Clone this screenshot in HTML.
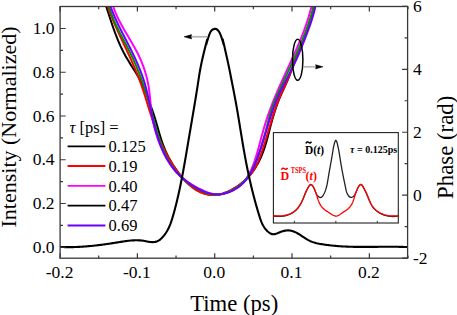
<!DOCTYPE html>
<html><head><meta charset="utf-8"><style>
html,body{margin:0;padding:0;background:#fff;width:457px;height:315px;overflow:hidden}
svg{display:block}
text{font-family:"Liberation Serif",serif;fill:#000}
.tk{font-size:17.5px}
.lg{font-size:16.5px}
.ti{font-size:22px}
.ib{font-size:12px;font-weight:bold}
.is{font-size:10px;font-weight:bold}
</style></head><body>
<svg width="457" height="315" viewBox="0 0 457 315">
<rect width="457" height="315" fill="#fff"/>
<defs><clipPath id="cp"><rect x="60.10" y="6.50" width="347.50" height="251.70"/></clipPath></defs>
<g clip-path="url(#cp)">
<path d="M106.25,6.59 L106.62,7.72 L106.99,8.86 L107.36,10.00 L107.73,11.14 L108.10,12.28 L108.47,13.41 L108.84,14.56 L109.21,15.70 L109.59,16.84 L109.96,17.98 L110.33,19.12 L110.71,20.26 L111.09,21.40 L111.47,22.54 L111.85,23.67 L112.24,24.81 L112.63,25.95 L113.02,27.08 L113.41,28.22 L113.81,29.35 L114.22,30.48 L114.63,31.61 L115.04,32.73 L115.46,33.86 L115.88,34.98 L116.31,36.10 L116.75,37.22 L117.19,38.33 L117.64,39.44 L118.09,40.55 L118.56,41.65 L119.03,42.75 L119.50,43.85 L119.99,44.95 L120.48,46.04 L120.99,47.12 L121.50,48.20 L122.02,49.28 L122.55,50.36 L123.08,51.42 L123.63,52.49 L124.19,53.55 L124.76,54.60 L125.34,55.65 L125.93,56.69 L126.53,57.73 L127.14,58.76 L127.76,59.80 L128.38,60.82 L129.01,61.85 L129.64,62.87 L130.28,63.89 L130.92,64.91 L131.56,65.93 L132.20,66.94 L132.85,67.96 L133.49,68.98 L134.13,70.00 L134.77,71.01 L135.40,72.03 L136.04,73.06 L136.66,74.08 L137.28,75.11 L137.89,76.14 L138.49,77.18 L139.09,78.22 L139.67,79.26 L140.25,80.31 L140.81,81.36 L141.36,82.42 L141.89,83.49 L142.41,84.57 L142.92,85.65 L143.41,86.74 L143.89,87.83 L144.35,88.93 L144.80,90.04 L145.24,91.15 L145.68,92.27 L146.11,93.38 L146.53,94.51 L146.94,95.63 L147.36,96.75 L147.77,97.88 L148.18,99.01 L148.59,100.13 L149.01,101.26 L149.43,102.38 L149.84,103.50 L150.26,104.63 L150.67,105.75 L151.09,106.88 L151.50,108.00 L151.90,109.13 L152.31,110.26 L152.71,111.39 L153.10,112.52 L153.48,113.66 L153.86,114.80 L154.23,115.94 L154.60,117.09 L154.95,118.23 L155.31,119.39 L155.65,120.54 L155.99,121.69 L156.33,122.85 L156.66,124.01 L157.00,125.16 L157.33,126.32 L157.66,127.48 L157.99,128.64 L158.32,129.80 L158.65,130.96 L158.98,132.11 L159.32,133.27 L159.66,134.42 L160.01,135.57 L160.36,136.72 L160.71,137.86 L161.08,139.01 L161.45,140.14 L161.83,141.28 L162.21,142.41 L162.61,143.54 L163.02,144.66 L163.44,145.77 L163.87,146.88 L164.31,147.99 L164.76,149.09 L165.22,150.19 L165.70,151.28 L166.19,152.36 L166.69,153.44 L167.20,154.51 L167.72,155.58 L168.25,156.64 L168.80,157.70 L169.36,158.74 L169.93,159.79 L170.51,160.83 L171.11,161.86 L171.71,162.88 L172.33,163.90 L172.96,164.92 L173.60,165.92 L174.26,166.92 L174.93,167.92 L175.61,168.91 L176.30,169.89 L177.01,170.86 L177.73,171.83 L178.46,172.79 L179.20,173.75 L179.96,174.70 L180.73,175.64 L181.51,176.57 L182.31,177.50 L183.11,178.41 L183.94,179.31 L184.77,180.20 L185.62,181.08 L186.49,181.94 L187.37,182.79 L188.26,183.62 L189.16,184.43 L190.09,185.22 L191.02,185.98 L191.97,186.73 L192.94,187.45 L193.92,188.15 L194.92,188.82 L195.93,189.46 L196.96,190.08 L198.00,190.66 L199.06,191.21 L200.14,191.73 L201.23,192.22 L202.34,192.67 L203.46,193.09 L204.59,193.47 L205.74,193.80 L206.89,194.10 L208.05,194.35 L209.22,194.56 L210.39,194.73 L211.56,194.84 L212.74,194.91 L213.92,194.93 L215.10,194.90 L216.27,194.81 L217.44,194.68 L218.61,194.50 L219.78,194.27 L220.94,194.00 L222.10,193.69 L223.25,193.34 L224.40,192.96 L225.53,192.54 L226.67,192.09 L227.79,191.61 L228.91,191.10 L230.01,190.57 L231.11,190.02 L232.20,189.44 L233.28,188.85 L234.34,188.23 L235.39,187.59 L236.43,186.94 L237.46,186.26 L238.47,185.56 L239.46,184.85 L240.44,184.12 L241.40,183.37 L242.34,182.60 L243.26,181.82 L244.17,181.02 L245.05,180.21 L245.92,179.38 L246.77,178.53 L247.60,177.67 L248.41,176.80 L249.21,175.91 L249.98,175.01 L250.74,174.09 L251.48,173.17 L252.21,172.22 L252.92,171.27 L253.61,170.31 L254.28,169.33 L254.94,168.34 L255.58,167.34 L256.21,166.33 L256.81,165.31 L257.41,164.28 L257.98,163.24 L258.55,162.19 L259.09,161.13 L259.62,160.07 L260.14,158.99 L260.64,157.91 L261.12,156.82 L261.59,155.72 L262.05,154.61 L262.49,153.50 L262.92,152.39 L263.34,151.26 L263.74,150.13 L264.13,149.00 L264.52,147.86 L264.89,146.72 L265.25,145.57 L265.60,144.42 L265.95,143.27 L266.29,142.11 L266.62,140.95 L266.94,139.78 L267.26,138.62 L267.58,137.45 L267.89,136.28 L268.20,135.11 L268.50,133.94 L268.81,132.77 L269.11,131.60 L269.41,130.43 L269.71,129.26 L270.01,128.09 L270.31,126.93 L270.62,125.76 L270.93,124.60 L271.24,123.43 L271.55,122.27 L271.87,121.12 L272.19,119.96 L272.52,118.81 L272.85,117.66 L273.19,116.51 L273.53,115.36 L273.87,114.22 L274.23,113.08 L274.58,111.94 L274.95,110.80 L275.32,109.67 L275.69,108.54 L276.07,107.41 L276.46,106.29 L276.86,105.16 L277.27,104.04 L277.68,102.92 L278.10,101.81 L278.53,100.69 L278.96,99.58 L279.41,98.48 L279.86,97.37 L280.33,96.27 L280.80,95.17 L281.28,94.08 L281.77,92.98 L282.27,91.89 L282.77,90.80 L283.28,89.71 L283.79,88.62 L284.30,87.53 L284.81,86.44 L285.31,85.35 L285.81,84.25 L286.31,83.16 L286.80,82.06 L287.28,80.96 L287.74,79.85 L288.20,78.74 L288.65,77.63 L289.08,76.51 L289.51,75.39 L289.94,74.27 L290.35,73.15 L290.76,72.02 L291.17,70.89 L291.58,69.77 L291.98,68.64 L292.39,67.51 L292.79,66.38 L293.20,65.26 L293.61,64.13 L294.03,63.01 L294.45,61.89 L294.87,60.77 L295.30,59.65 L295.73,58.53 L296.16,57.41 L296.60,56.29 L297.03,55.18 L297.47,54.06 L297.91,52.95 L298.35,51.83 L298.80,50.72 L299.24,49.61 L299.68,48.49 L300.13,47.38 L300.57,46.27 L301.02,45.16 L301.46,44.04 L301.91,42.93 L302.35,41.82 L302.79,40.70 L303.23,39.59 L303.67,38.47 L304.11,37.36 L304.55,36.24 L304.98,35.12 L305.41,34.01 L305.84,32.89 L306.26,31.76 L306.69,30.64 L307.10,29.52 L307.52,28.39 L307.92,27.27 L308.33,26.14 L308.73,25.01 L309.12,23.88 L309.51,22.74 L309.89,21.61 L310.26,20.47 L310.63,19.33 L310.98,18.18 L311.34,17.04 L311.68,15.89 L312.01,14.74 L312.34,13.58 L312.66,12.43 L312.97,11.27 L313.26,10.10 L313.55,8.94 L313.83,7.77 L314.09,6.59" fill="none" stroke="#000000" stroke-width="2" stroke-linejoin="round"/>
<path d="M107.87,6.57 L108.26,7.70 L108.66,8.84 L109.06,9.97 L109.47,11.10 L109.89,12.22 L110.31,13.34 L110.74,14.46 L111.17,15.58 L111.61,16.69 L112.05,17.80 L112.50,18.91 L112.96,20.02 L113.42,21.12 L113.88,22.23 L114.35,23.33 L114.82,24.43 L115.30,25.53 L115.78,26.62 L116.26,27.71 L116.74,28.81 L117.23,29.90 L117.73,30.99 L118.22,32.08 L118.72,33.17 L119.22,34.25 L119.72,35.34 L120.22,36.42 L120.73,37.51 L121.23,38.59 L121.74,39.68 L122.25,40.76 L122.76,41.84 L123.27,42.93 L123.78,44.01 L124.29,45.09 L124.80,46.17 L125.31,47.26 L125.82,48.34 L126.33,49.43 L126.84,50.51 L127.35,51.59 L127.85,52.68 L128.36,53.77 L128.86,54.85 L129.36,55.94 L129.86,57.03 L130.35,58.12 L130.85,59.22 L131.34,60.31 L131.83,61.40 L132.32,62.50 L132.80,63.59 L133.28,64.69 L133.76,65.79 L134.23,66.89 L134.70,67.99 L135.17,69.10 L135.63,70.20 L136.09,71.31 L136.55,72.42 L137.00,73.52 L137.45,74.64 L137.89,75.75 L138.33,76.86 L138.76,77.98 L139.19,79.09 L139.62,80.21 L140.04,81.33 L140.45,82.46 L140.86,83.58 L141.26,84.71 L141.66,85.83 L142.05,86.96 L142.44,88.09 L142.82,89.23 L143.20,90.36 L143.57,91.50 L143.94,92.63 L144.31,93.77 L144.67,94.91 L145.03,96.05 L145.39,97.19 L145.75,98.33 L146.10,99.48 L146.46,100.62 L146.81,101.76 L147.16,102.91 L147.51,104.05 L147.86,105.19 L148.21,106.34 L148.56,107.48 L148.91,108.63 L149.26,109.77 L149.62,110.91 L149.97,112.06 L150.33,113.20 L150.69,114.34 L151.06,115.48 L151.42,116.62 L151.79,117.76 L152.16,118.90 L152.54,120.04 L152.92,121.17 L153.30,122.31 L153.69,123.44 L154.08,124.57 L154.47,125.70 L154.87,126.83 L155.28,127.96 L155.68,129.09 L156.10,130.21 L156.51,131.33 L156.94,132.45 L157.36,133.56 L157.80,134.68 L158.24,135.79 L158.68,136.90 L159.13,138.01 L159.59,139.11 L160.05,140.21 L160.52,141.31 L160.99,142.41 L161.47,143.50 L161.96,144.59 L162.45,145.67 L162.95,146.75 L163.46,147.83 L163.98,148.91 L164.50,149.98 L165.03,151.05 L165.57,152.11 L166.11,153.17 L166.67,154.23 L167.23,155.28 L167.80,156.33 L168.38,157.37 L168.96,158.41 L169.56,159.45 L170.16,160.48 L170.78,161.50 L171.40,162.52 L172.03,163.54 L172.67,164.55 L173.32,165.55 L173.98,166.56 L174.65,167.55 L175.33,168.54 L176.02,169.52 L176.72,170.50 L177.43,171.48 L178.15,172.44 L178.89,173.41 L179.63,174.36 L180.38,175.31 L181.15,176.26 L181.93,177.19 L182.71,178.12 L183.52,179.04 L184.33,179.94 L185.16,180.83 L185.99,181.71 L186.85,182.57 L187.72,183.42 L188.60,184.24 L189.49,185.05 L190.40,185.83 L191.33,186.59 L192.27,187.33 L193.23,188.05 L194.20,188.73 L195.19,189.39 L196.20,190.02 L197.23,190.62 L198.27,191.19 L199.33,191.72 L200.41,192.22 L201.51,192.68 L202.62,193.11 L203.75,193.49 L204.89,193.84 L206.04,194.15 L207.20,194.42 L208.37,194.65 L209.55,194.83 L210.73,194.97 L211.91,195.07 L213.10,195.11 L214.28,195.12 L215.46,195.07 L216.64,194.98 L217.81,194.84 L218.98,194.66 L220.14,194.43 L221.30,194.17 L222.45,193.86 L223.60,193.51 L224.74,193.13 L225.87,192.71 L226.99,192.26 L228.11,191.78 L229.21,191.26 L230.31,190.72 L231.39,190.15 L232.47,189.55 L233.53,188.93 L234.58,188.28 L235.63,187.61 L236.65,186.92 L237.67,186.22 L238.67,185.49 L239.66,184.75 L240.63,184.00 L241.59,183.23 L242.53,182.45 L243.45,181.66 L244.36,180.86 L245.25,180.05 L246.13,179.23 L246.98,178.39 L247.81,177.54 L248.63,176.68 L249.42,175.80 L250.19,174.91 L250.94,174.00 L251.67,173.08 L252.37,172.14 L253.04,171.18 L253.70,170.20 L254.32,169.21 L254.93,168.20 L255.50,167.17 L256.06,166.12 L256.59,165.07 L257.11,164.00 L257.60,162.92 L258.09,161.82 L258.55,160.72 L259.00,159.61 L259.44,158.49 L259.87,157.37 L260.29,156.25 L260.71,155.12 L261.11,153.98 L261.51,152.85 L261.91,151.72 L262.29,150.58 L262.68,149.44 L263.06,148.30 L263.43,147.16 L263.80,146.01 L264.17,144.87 L264.53,143.72 L264.89,142.58 L265.24,141.43 L265.60,140.28 L265.95,139.14 L266.30,137.99 L266.64,136.84 L266.99,135.69 L267.33,134.54 L267.67,133.39 L268.01,132.23 L268.35,131.08 L268.69,129.93 L269.03,128.78 L269.37,127.63 L269.72,126.48 L270.06,125.34 L270.40,124.19 L270.75,123.04 L271.09,121.89 L271.44,120.75 L271.79,119.60 L272.15,118.46 L272.50,117.32 L272.86,116.17 L273.22,115.03 L273.59,113.90 L273.96,112.76 L274.34,111.62 L274.72,110.49 L275.10,109.36 L275.49,108.23 L275.89,107.10 L276.29,105.98 L276.70,104.86 L277.11,103.74 L277.53,102.62 L277.96,101.50 L278.40,100.39 L278.84,99.28 L279.29,98.18 L279.75,97.07 L280.21,95.97 L280.69,94.87 L281.17,93.78 L281.66,92.69 L282.16,91.60 L282.66,90.51 L283.17,89.43 L283.68,88.34 L284.19,87.26 L284.69,86.17 L285.20,85.09 L285.71,84.00 L286.20,82.91 L286.70,81.82 L287.19,80.72 L287.66,79.63 L288.13,78.52 L288.60,77.42 L289.05,76.31 L289.50,75.20 L289.94,74.09 L290.38,72.98 L290.81,71.86 L291.24,70.75 L291.67,69.63 L292.10,68.51 L292.52,67.39 L292.95,66.27 L293.38,65.16 L293.81,64.04 L294.24,62.92 L294.67,61.81 L295.11,60.69 L295.54,59.58 L295.98,58.46 L296.42,57.35 L296.85,56.23 L297.29,55.12 L297.73,54.01 L298.18,52.89 L298.62,51.78 L299.06,50.67 L299.50,49.56 L299.94,48.45 L300.38,47.33 L300.82,46.22 L301.27,45.11 L301.71,43.99 L302.14,42.88 L302.58,41.77 L303.02,40.65 L303.46,39.54 L303.89,38.43 L304.32,37.31 L304.76,36.19 L305.19,35.08 L305.61,33.96 L306.04,32.84 L306.46,31.72 L306.88,30.60 L307.30,29.48 L307.71,28.36 L308.12,27.23 L308.53,26.11 L308.92,24.98 L309.32,23.85 L309.71,22.72 L310.09,21.58 L310.46,20.45 L310.83,19.31 L311.19,18.17 L311.54,17.02 L311.89,15.88 L312.22,14.73 L312.55,13.58 L312.86,12.42 L313.17,11.26 L313.47,10.10 L313.75,8.93 L314.03,7.77 L314.29,6.59" fill="none" stroke="#ff0000" stroke-width="2" stroke-linejoin="round"/>
<path d="M113.26,6.60 L113.65,7.75 L114.05,8.89 L114.47,10.02 L114.91,11.14 L115.36,12.26 L115.82,13.37 L116.29,14.48 L116.78,15.57 L117.28,16.66 L117.79,17.75 L118.31,18.83 L118.84,19.90 L119.38,20.97 L119.93,22.03 L120.49,23.09 L121.05,24.15 L121.62,25.20 L122.20,26.25 L122.79,27.29 L123.38,28.33 L123.97,29.37 L124.57,30.41 L125.17,31.45 L125.78,32.48 L126.39,33.52 L127.00,34.55 L127.61,35.58 L128.22,36.61 L128.83,37.64 L129.45,38.67 L130.06,39.71 L130.67,40.74 L131.27,41.77 L131.88,42.81 L132.48,43.85 L133.07,44.89 L133.67,45.93 L134.25,46.98 L134.84,48.02 L135.41,49.08 L135.98,50.13 L136.54,51.19 L137.09,52.26 L137.64,53.33 L138.17,54.40 L138.70,55.48 L139.21,56.57 L139.72,57.66 L140.21,58.75 L140.70,59.85 L141.17,60.96 L141.63,62.07 L142.08,63.19 L142.52,64.31 L142.95,65.43 L143.37,66.56 L143.77,67.69 L144.17,68.83 L144.55,69.97 L144.92,71.11 L145.28,72.26 L145.62,73.41 L145.95,74.57 L146.28,75.73 L146.58,76.89 L146.88,78.05 L147.16,79.22 L147.43,80.39 L147.68,81.56 L147.93,82.73 L148.15,83.91 L148.37,85.09 L148.57,86.27 L148.76,87.45 L148.93,88.64 L149.10,89.82 L149.26,91.01 L149.40,92.20 L149.54,93.39 L149.68,94.58 L149.80,95.77 L149.93,96.96 L150.04,98.15 L150.16,99.34 L150.27,100.54 L150.39,101.73 L150.50,102.92 L150.62,104.12 L150.73,105.31 L150.85,106.50 L150.98,107.69 L151.11,108.88 L151.25,110.07 L151.39,111.26 L151.54,112.45 L151.70,113.64 L151.87,114.82 L152.06,116.00 L152.25,117.19 L152.46,118.36 L152.67,119.54 L152.90,120.72 L153.14,121.89 L153.39,123.06 L153.65,124.23 L153.92,125.40 L154.21,126.57 L154.50,127.73 L154.80,128.89 L155.12,130.05 L155.44,131.21 L155.78,132.36 L156.12,133.51 L156.48,134.66 L156.84,135.80 L157.22,136.94 L157.61,138.08 L158.00,139.22 L158.41,140.35 L158.82,141.48 L159.25,142.61 L159.69,143.73 L160.13,144.85 L160.59,145.97 L161.05,147.08 L161.52,148.19 L162.01,149.29 L162.50,150.39 L163.01,151.48 L163.53,152.57 L164.06,153.65 L164.60,154.72 L165.15,155.79 L165.72,156.85 L166.30,157.90 L166.89,158.94 L167.49,159.97 L168.11,161.00 L168.74,162.01 L169.38,163.02 L170.04,164.01 L170.72,164.99 L171.41,165.97 L172.11,166.93 L172.83,167.87 L173.56,168.81 L174.31,169.73 L175.08,170.64 L175.87,171.54 L176.67,172.42 L177.48,173.29 L178.32,174.14 L179.17,174.97 L180.04,175.79 L180.93,176.60 L181.83,177.39 L182.75,178.16 L183.69,178.92 L184.64,179.66 L185.60,180.39 L186.58,181.11 L187.57,181.81 L188.57,182.50 L189.58,183.17 L190.60,183.83 L191.63,184.48 L192.68,185.11 L193.73,185.73 L194.78,186.33 L195.85,186.93 L196.92,187.51 L198.00,188.08 L199.08,188.63 L200.17,189.18 L201.26,189.71 L202.35,190.23 L203.45,190.73 L204.56,191.21 L205.67,191.66 L206.79,192.09 L207.91,192.48 L209.04,192.84 L210.18,193.17 L211.32,193.45 L212.47,193.69 L213.63,193.89 L214.80,194.03 L215.98,194.13 L217.17,194.17 L218.36,194.15 L219.55,194.09 L220.75,193.98 L221.94,193.83 L223.14,193.62 L224.33,193.38 L225.51,193.09 L226.68,192.75 L227.84,192.38 L229.00,191.96 L230.13,191.51 L231.25,191.02 L232.35,190.49 L233.44,189.93 L234.50,189.33 L235.54,188.70 L236.56,188.04 L237.55,187.35 L238.52,186.63 L239.46,185.87 L240.37,185.09 L241.26,184.29 L242.11,183.46 L242.93,182.60 L243.73,181.72 L244.49,180.82 L245.23,179.89 L245.94,178.95 L246.62,177.98 L247.28,177.00 L247.91,175.99 L248.52,174.97 L249.11,173.94 L249.68,172.89 L250.22,171.82 L250.75,170.74 L251.26,169.65 L251.75,168.55 L252.22,167.43 L252.68,166.31 L253.12,165.18 L253.55,164.04 L253.96,162.90 L254.37,161.74 L254.76,160.59 L255.14,159.43 L255.51,158.27 L255.88,157.10 L256.23,155.94 L256.58,154.77 L256.93,153.61 L257.27,152.44 L257.60,151.28 L257.93,150.12 L258.25,148.95 L258.58,147.79 L258.90,146.63 L259.21,145.47 L259.53,144.31 L259.84,143.16 L260.15,142.00 L260.46,140.85 L260.77,139.69 L261.08,138.54 L261.39,137.38 L261.70,136.23 L262.01,135.08 L262.33,133.93 L262.64,132.78 L262.96,131.63 L263.29,130.49 L263.61,129.34 L263.94,128.20 L264.27,127.05 L264.61,125.91 L264.96,124.77 L265.31,123.63 L265.66,122.49 L266.02,121.35 L266.39,120.21 L266.76,119.07 L267.13,117.94 L267.51,116.81 L267.90,115.67 L268.29,114.54 L268.69,113.41 L269.09,112.28 L269.49,111.15 L269.90,110.03 L270.32,108.90 L270.74,107.78 L271.16,106.66 L271.59,105.53 L272.02,104.41 L272.45,103.30 L272.89,102.18 L273.33,101.06 L273.78,99.95 L274.23,98.83 L274.69,97.72 L275.14,96.61 L275.60,95.50 L276.07,94.39 L276.54,93.29 L277.01,92.18 L277.48,91.08 L277.96,89.97 L278.44,88.87 L278.92,87.77 L279.40,86.67 L279.89,85.58 L280.38,84.48 L280.87,83.38 L281.36,82.29 L281.85,81.19 L282.35,80.10 L282.84,79.00 L283.34,77.91 L283.84,76.82 L284.34,75.73 L284.84,74.63 L285.34,73.54 L285.85,72.45 L286.35,71.36 L286.85,70.27 L287.36,69.18 L287.86,68.09 L288.36,67.00 L288.86,65.91 L289.37,64.82 L289.87,63.73 L290.37,62.64 L290.87,61.55 L291.37,60.46 L291.87,59.36 L292.36,58.27 L292.86,57.18 L293.35,56.09 L293.85,54.99 L294.34,53.90 L294.82,52.80 L295.31,51.71 L295.80,50.61 L296.28,49.51 L296.76,48.42 L297.23,47.32 L297.71,46.22 L298.18,45.11 L298.65,44.01 L299.11,42.91 L299.57,41.80 L300.03,40.70 L300.48,39.59 L300.93,38.48 L301.38,37.37 L301.82,36.25 L302.26,35.14 L302.70,34.02 L303.13,32.91 L303.55,31.79 L303.97,30.67 L304.39,29.54 L304.80,28.42 L305.20,27.29 L305.60,26.16 L306.00,25.03 L306.39,23.90 L306.77,22.76 L307.15,21.62 L307.52,20.48 L307.88,19.34 L308.24,18.19 L308.59,17.05 L308.94,15.90 L309.28,14.74 L309.61,13.59 L309.94,12.43 L310.25,11.27 L310.57,10.10 L310.87,8.94 L311.17,7.77 L311.45,6.59" fill="none" stroke="#ff00ff" stroke-width="2" stroke-linejoin="round"/>
<path d="M109.02,6.57 L109.34,7.72 L109.69,8.86 L110.04,10.00 L110.41,11.14 L110.80,12.27 L111.19,13.40 L111.60,14.52 L112.02,15.64 L112.45,16.75 L112.89,17.86 L113.35,18.96 L113.81,20.07 L114.28,21.17 L114.76,22.26 L115.25,23.35 L115.75,24.44 L116.26,25.53 L116.77,26.62 L117.29,27.70 L117.81,28.78 L118.34,29.86 L118.88,30.93 L119.42,32.01 L119.96,33.08 L120.51,34.15 L121.06,35.22 L121.62,36.29 L122.17,37.36 L122.73,38.43 L123.29,39.49 L123.85,40.56 L124.41,41.63 L124.97,42.69 L125.53,43.76 L126.09,44.83 L126.64,45.89 L127.20,46.96 L127.75,48.03 L128.30,49.10 L128.84,50.17 L129.39,51.24 L129.92,52.32 L130.45,53.39 L130.98,54.47 L131.50,55.55 L132.01,56.63 L132.52,57.71 L133.02,58.79 L133.52,59.88 L134.01,60.97 L134.49,62.06 L134.97,63.15 L135.44,64.24 L135.91,65.34 L136.37,66.44 L136.83,67.54 L137.28,68.64 L137.73,69.74 L138.17,70.85 L138.60,71.96 L139.04,73.06 L139.46,74.18 L139.89,75.29 L140.30,76.40 L140.72,77.52 L141.13,78.63 L141.53,79.75 L141.93,80.87 L142.33,82.00 L142.72,83.12 L143.11,84.25 L143.50,85.37 L143.88,86.50 L144.26,87.63 L144.63,88.76 L145.00,89.90 L145.37,91.03 L145.73,92.17 L146.09,93.31 L146.45,94.44 L146.81,95.59 L147.16,96.73 L147.51,97.87 L147.86,99.02 L148.20,100.16 L148.54,101.31 L148.88,102.46 L149.22,103.61 L149.56,104.76 L149.89,105.91 L150.22,107.06 L150.55,108.22 L150.88,109.38 L151.20,110.53 L151.53,111.69 L151.85,112.85 L152.17,114.01 L152.49,115.18 L152.81,116.34 L153.13,117.50 L153.45,118.67 L153.77,119.83 L154.08,121.00 L154.40,122.16 L154.72,123.33 L155.04,124.49 L155.37,125.66 L155.69,126.82 L156.02,127.98 L156.35,129.14 L156.68,130.30 L157.02,131.46 L157.36,132.61 L157.71,133.76 L158.06,134.91 L158.42,136.06 L158.78,137.21 L159.15,138.35 L159.52,139.48 L159.91,140.62 L160.29,141.75 L160.69,142.87 L161.09,144.00 L161.51,145.11 L161.93,146.22 L162.36,147.33 L162.80,148.43 L163.25,149.53 L163.70,150.62 L164.17,151.71 L164.66,152.79 L165.15,153.86 L165.65,154.92 L166.17,155.98 L166.70,157.04 L167.24,158.08 L167.79,159.12 L168.36,160.15 L168.94,161.17 L169.54,162.18 L170.15,163.19 L170.77,164.19 L171.41,165.17 L172.07,166.15 L172.74,167.12 L173.43,168.08 L174.14,169.03 L174.87,169.97 L175.61,170.90 L176.37,171.82 L177.15,172.73 L177.94,173.63 L178.76,174.52 L179.60,175.39 L180.45,176.26 L181.33,177.11 L182.22,177.95 L183.13,178.77 L184.06,179.59 L185.00,180.39 L185.95,181.17 L186.92,181.94 L187.91,182.70 L188.90,183.44 L189.91,184.16 L190.93,184.87 L191.96,185.56 L193.00,186.23 L194.05,186.89 L195.10,187.53 L196.16,188.15 L197.23,188.75 L198.31,189.33 L199.39,189.89 L200.47,190.43 L201.56,190.95 L202.65,191.45 L203.74,191.92 L204.84,192.36 L205.94,192.77 L207.05,193.15 L208.17,193.49 L209.29,193.80 L210.41,194.06 L211.54,194.28 L212.68,194.46 L213.82,194.59 L214.97,194.67 L216.13,194.70 L217.29,194.68 L218.45,194.61 L219.62,194.49 L220.79,194.32 L221.96,194.11 L223.13,193.85 L224.30,193.55 L225.46,193.21 L226.61,192.83 L227.76,192.41 L228.89,191.96 L230.02,191.46 L231.14,190.93 L232.24,190.37 L233.33,189.77 L234.40,189.15 L235.46,188.49 L236.49,187.81 L237.51,187.09 L238.50,186.36 L239.47,185.60 L240.42,184.81 L241.34,184.00 L242.23,183.17 L243.09,182.33 L243.93,181.46 L244.74,180.58 L245.52,179.68 L246.28,178.76 L247.01,177.82 L247.72,176.87 L248.40,175.91 L249.07,174.93 L249.71,173.93 L250.33,172.93 L250.93,171.91 L251.52,170.88 L252.08,169.84 L252.63,168.79 L253.16,167.73 L253.68,166.66 L254.18,165.58 L254.67,164.49 L255.15,163.39 L255.61,162.29 L256.06,161.19 L256.50,160.07 L256.94,158.96 L257.36,157.83 L257.78,156.71 L258.19,155.58 L258.59,154.45 L258.99,153.32 L259.38,152.18 L259.77,151.05 L260.15,149.91 L260.52,148.77 L260.90,147.63 L261.26,146.49 L261.62,145.34 L261.98,144.20 L262.33,143.05 L262.68,141.90 L263.02,140.75 L263.36,139.60 L263.69,138.45 L264.03,137.30 L264.35,136.14 L264.68,134.99 L265.00,133.83 L265.31,132.67 L265.62,131.51 L265.93,130.35 L266.24,129.19 L266.54,128.03 L266.84,126.87 L267.14,125.71 L267.44,124.55 L267.73,123.39 L268.02,122.22 L268.32,121.06 L268.61,119.90 L268.91,118.74 L269.21,117.58 L269.52,116.43 L269.83,115.27 L270.15,114.12 L270.48,112.98 L270.82,111.83 L271.18,110.69 L271.54,109.56 L271.92,108.43 L272.32,107.30 L272.72,106.18 L273.14,105.06 L273.56,103.94 L274.00,102.83 L274.44,101.72 L274.89,100.62 L275.35,99.51 L275.82,98.41 L276.29,97.31 L276.76,96.21 L277.24,95.12 L277.72,94.02 L278.21,92.93 L278.70,91.83 L279.19,90.74 L279.68,89.65 L280.17,88.56 L280.67,87.47 L281.17,86.38 L281.67,85.29 L282.18,84.21 L282.68,83.12 L283.19,82.03 L283.69,80.95 L284.20,79.86 L284.71,78.78 L285.22,77.69 L285.73,76.61 L286.25,75.53 L286.76,74.44 L287.27,73.36 L287.79,72.28 L288.30,71.19 L288.81,70.11 L289.33,69.03 L289.84,67.94 L290.35,66.86 L290.86,65.77 L291.37,64.69 L291.88,63.61 L292.39,62.52 L292.90,61.43 L293.41,60.35 L293.91,59.26 L294.41,58.17 L294.92,57.09 L295.41,56.00 L295.91,54.91 L296.41,53.82 L296.90,52.73 L297.39,51.64 L297.88,50.54 L298.37,49.45 L298.85,48.35 L299.33,47.26 L299.80,46.16 L300.28,45.06 L300.75,43.96 L301.21,42.86 L301.68,41.76 L302.13,40.65 L302.59,39.55 L303.04,38.44 L303.49,37.33 L303.93,36.22 L304.37,35.11 L304.80,33.99 L305.23,32.88 L305.65,31.76 L306.07,30.64 L306.48,29.52 L306.89,28.40 L307.29,27.27 L307.68,26.14 L308.07,25.01 L308.46,23.88 L308.84,22.75 L309.21,21.61 L309.57,20.47 L309.93,19.33 L310.29,18.18 L310.63,17.04 L310.97,15.89 L311.30,14.73 L311.63,13.58 L311.94,12.42 L312.25,11.26 L312.56,10.10 L312.85,8.93 L313.14,7.76 L313.41,6.59" fill="none" stroke="#009000" stroke-width="2" stroke-linejoin="round"/>
<path d="M110.58,6.60 L111.00,7.73 L111.42,8.86 L111.85,9.98 L112.29,11.10 L112.74,12.22 L113.19,13.33 L113.65,14.44 L114.12,15.54 L114.60,16.64 L115.08,17.74 L115.57,18.84 L116.07,19.93 L116.57,21.02 L117.07,22.10 L117.58,23.18 L118.09,24.27 L118.61,25.34 L119.14,26.42 L119.66,27.50 L120.19,28.57 L120.73,29.64 L121.26,30.71 L121.80,31.78 L122.34,32.85 L122.88,33.92 L123.43,34.98 L123.97,36.05 L124.52,37.11 L125.07,38.18 L125.62,39.24 L126.16,40.31 L126.71,41.38 L127.26,42.44 L127.81,43.51 L128.35,44.58 L128.89,45.64 L129.44,46.71 L129.98,47.78 L130.52,48.86 L131.05,49.93 L131.58,51.01 L132.11,52.08 L132.64,53.16 L133.16,54.24 L133.68,55.33 L134.19,56.42 L134.70,57.50 L135.21,58.60 L135.71,59.69 L136.20,60.79 L136.69,61.89 L137.17,62.99 L137.65,64.09 L138.12,65.20 L138.59,66.31 L139.05,67.42 L139.50,68.53 L139.95,69.65 L140.39,70.76 L140.82,71.88 L141.24,73.01 L141.66,74.13 L142.07,75.26 L142.47,76.39 L142.86,77.52 L143.24,78.66 L143.62,79.79 L143.98,80.93 L144.34,82.07 L144.69,83.21 L145.03,84.36 L145.36,85.51 L145.67,86.66 L145.98,87.81 L146.29,88.96 L146.58,90.12 L146.86,91.27 L147.14,92.43 L147.42,93.59 L147.68,94.76 L147.94,95.92 L148.20,97.08 L148.45,98.25 L148.70,99.42 L148.94,100.59 L149.19,101.76 L149.43,102.93 L149.67,104.10 L149.90,105.28 L150.14,106.45 L150.38,107.63 L150.62,108.80 L150.85,109.98 L151.09,111.16 L151.34,112.34 L151.58,113.52 L151.83,114.70 L152.08,115.87 L152.34,117.05 L152.60,118.23 L152.87,119.41 L153.14,120.59 L153.41,121.77 L153.69,122.95 L153.98,124.12 L154.27,125.30 L154.57,126.47 L154.87,127.64 L155.18,128.81 L155.50,129.98 L155.83,131.14 L156.16,132.31 L156.50,133.47 L156.84,134.62 L157.20,135.77 L157.56,136.92 L157.93,138.07 L158.31,139.21 L158.70,140.34 L159.10,141.48 L159.51,142.60 L159.93,143.73 L160.36,144.84 L160.80,145.96 L161.25,147.06 L161.71,148.16 L162.18,149.26 L162.66,150.34 L163.15,151.43 L163.66,152.50 L164.17,153.57 L164.70,154.63 L165.24,155.68 L165.80,156.73 L166.36,157.77 L166.94,158.80 L167.54,159.82 L168.14,160.83 L168.77,161.83 L169.40,162.83 L170.05,163.82 L170.72,164.79 L171.39,165.76 L172.09,166.72 L172.80,167.67 L173.52,168.60 L174.27,169.53 L175.02,170.44 L175.80,171.35 L176.59,172.24 L177.39,173.13 L178.22,174.00 L179.06,174.85 L179.92,175.70 L180.79,176.54 L181.69,177.36 L182.59,178.17 L183.52,178.96 L184.46,179.74 L185.41,180.51 L186.37,181.27 L187.35,182.00 L188.34,182.73 L189.35,183.44 L190.36,184.13 L191.39,184.81 L192.43,185.47 L193.47,186.12 L194.53,186.75 L195.59,187.36 L196.66,187.96 L197.74,188.54 L198.83,189.10 L199.92,189.64 L201.02,190.16 L202.13,190.67 L203.24,191.15 L204.35,191.61 L205.48,192.03 L206.60,192.43 L207.74,192.80 L208.88,193.14 L210.02,193.43 L211.17,193.69 L212.32,193.91 L213.48,194.08 L214.65,194.21 L215.82,194.29 L216.99,194.33 L218.17,194.31 L219.35,194.25 L220.53,194.14 L221.71,193.99 L222.88,193.80 L224.06,193.57 L225.22,193.29 L226.38,192.97 L227.53,192.62 L228.68,192.22 L229.81,191.79 L230.93,191.33 L232.03,190.82 L233.12,190.29 L234.20,189.72 L235.25,189.12 L236.29,188.49 L237.31,187.83 L238.31,187.14 L239.28,186.42 L240.23,185.68 L241.15,184.90 L242.04,184.11 L242.91,183.29 L243.75,182.45 L244.56,181.58 L245.35,180.70 L246.11,179.79 L246.84,178.87 L247.56,177.92 L248.24,176.96 L248.91,175.98 L249.56,174.98 L250.18,173.97 L250.79,172.95 L251.38,171.91 L251.94,170.86 L252.50,169.79 L253.03,168.71 L253.55,167.63 L254.06,166.53 L254.55,165.43 L255.03,164.31 L255.49,163.19 L255.95,162.06 L256.39,160.93 L256.83,159.79 L257.25,158.65 L257.67,157.51 L258.08,156.36 L258.49,155.21 L258.89,154.07 L259.28,152.92 L259.67,151.77 L260.05,150.62 L260.43,149.47 L260.81,148.32 L261.18,147.17 L261.55,146.02 L261.92,144.87 L262.28,143.71 L262.64,142.56 L262.99,141.41 L263.35,140.26 L263.70,139.11 L264.05,137.96 L264.40,136.82 L264.75,135.67 L265.10,134.52 L265.45,133.37 L265.79,132.22 L266.14,131.08 L266.48,129.93 L266.83,128.79 L267.18,127.64 L267.53,126.50 L267.88,125.36 L268.23,124.22 L268.58,123.08 L268.94,121.94 L269.29,120.80 L269.65,119.67 L270.02,118.53 L270.38,117.40 L270.75,116.26 L271.12,115.13 L271.50,114.00 L271.88,112.88 L272.26,111.75 L272.65,110.63 L273.05,109.50 L273.45,108.38 L273.85,107.26 L274.26,106.15 L274.68,105.03 L275.11,103.92 L275.53,102.81 L275.97,101.70 L276.42,100.59 L276.87,99.49 L277.32,98.39 L277.79,97.29 L278.27,96.19 L278.75,95.10 L279.24,94.01 L279.74,92.92 L280.25,91.83 L280.76,90.75 L281.28,89.66 L281.81,88.58 L282.34,87.50 L282.88,86.43 L283.42,85.35 L283.96,84.27 L284.51,83.20 L285.07,82.13 L285.62,81.05 L286.18,79.98 L286.73,78.91 L287.29,77.84 L287.85,76.77 L288.41,75.69 L288.96,74.62 L289.52,73.55 L290.07,72.48 L290.62,71.40 L291.17,70.33 L291.71,69.25 L292.25,68.18 L292.79,67.10 L293.32,66.02 L293.84,64.94 L294.36,63.86 L294.87,62.77 L295.38,61.69 L295.88,60.60 L296.37,59.51 L296.86,58.42 L297.35,57.32 L297.83,56.23 L298.30,55.13 L298.77,54.03 L299.24,52.94 L299.70,51.84 L300.16,50.73 L300.61,49.63 L301.06,48.52 L301.51,47.42 L301.96,46.31 L302.40,45.20 L302.84,44.09 L303.28,42.98 L303.71,41.87 L304.15,40.76 L304.58,39.64 L305.01,38.53 L305.44,37.41 L305.87,36.29 L306.29,35.17 L306.72,34.05 L307.14,32.93 L307.57,31.81 L307.99,30.69 L308.41,29.56 L308.82,28.44 L309.23,27.31 L309.64,26.18 L310.04,25.05 L310.44,23.92 L310.83,22.78 L311.21,21.64 L311.58,20.50 L311.95,19.36 L312.31,18.22 L312.66,17.07 L312.99,15.92 L313.32,14.76 L313.64,13.61 L313.95,12.45 L314.24,11.28 L314.52,10.11 L314.79,8.94 L315.04,7.77 L315.28,6.59" fill="none" stroke="#6a00ff" stroke-width="2" stroke-linejoin="round"/>
</g>
<path d="M60.19,246.92 L61.40,246.97 L62.60,247.02 L63.80,247.06 L65.00,247.09 L66.20,247.11 L67.40,247.13 L68.60,247.13 L69.80,247.13 L71.00,247.12 L72.20,247.11 L73.40,247.08 L74.60,247.05 L75.80,247.01 L76.99,246.97 L78.19,246.92 L79.39,246.86 L80.58,246.79 L81.78,246.72 L82.97,246.64 L84.17,246.56 L85.36,246.47 L86.55,246.38 L87.75,246.28 L88.94,246.17 L90.13,246.06 L91.32,245.94 L92.51,245.82 L93.71,245.70 L94.90,245.57 L96.09,245.43 L97.28,245.29 L98.47,245.15 L99.65,245.00 L100.84,244.85 L102.03,244.70 L103.22,244.54 L104.41,244.38 L105.59,244.21 L106.78,244.04 L107.97,243.87 L109.15,243.70 L110.34,243.52 L111.52,243.34 L112.71,243.16 L113.89,242.98 L115.08,242.79 L116.26,242.60 L117.44,242.41 L118.63,242.22 L119.81,242.03 L120.99,241.84 L122.17,241.65 L123.36,241.47 L124.54,241.29 L125.72,241.12 L126.90,240.96 L128.09,240.82 L129.27,240.69 L130.46,240.57 L131.64,240.47 L132.83,240.39 L134.01,240.33 L135.20,240.29 L136.39,240.28 L137.58,240.30 L138.77,240.34 L139.96,240.41 L141.15,240.52 L142.35,240.65 L143.55,240.83 L144.74,241.03 L145.94,241.25 L147.13,241.47 L148.32,241.67 L149.49,241.86 L150.66,242.00 L151.82,242.09 L152.96,242.11 L154.09,242.05 L155.20,241.89 L156.28,241.63 L157.35,241.24 L158.39,240.72 L159.40,240.06 L160.38,239.30 L161.33,238.44 L162.24,237.53 L163.10,236.57 L163.92,235.59 L164.70,234.59 L165.43,233.57 L166.12,232.54 L166.77,231.50 L167.38,230.44 L167.96,229.37 L168.51,228.29 L169.02,227.20 L169.51,226.10 L169.98,224.99 L170.42,223.87 L170.83,222.75 L171.23,221.62 L171.61,220.48 L171.98,219.34 L172.34,218.20 L172.68,217.05 L173.01,215.90 L173.34,214.75 L173.66,213.60 L173.98,212.45 L174.30,211.30 L174.61,210.15 L174.91,209.00 L175.22,207.85 L175.52,206.70 L175.81,205.55 L176.10,204.39 L176.39,203.24 L176.67,202.09 L176.95,200.94 L177.23,199.78 L177.50,198.63 L177.77,197.47 L178.04,196.32 L178.30,195.16 L178.57,194.01 L178.82,192.85 L179.08,191.70 L179.33,190.54 L179.58,189.38 L179.83,188.22 L180.07,187.06 L180.31,185.90 L180.55,184.74 L180.79,183.58 L181.02,182.42 L181.25,181.26 L181.48,180.09 L181.71,178.93 L181.94,177.76 L182.16,176.60 L182.38,175.43 L182.60,174.26 L182.82,173.09 L183.04,171.93 L183.26,170.76 L183.47,169.58 L183.68,168.41 L183.89,167.24 L184.10,166.06 L184.31,164.89 L184.52,163.71 L184.73,162.54 L184.94,161.36 L185.14,160.18 L185.35,159.00 L185.55,157.81 L185.75,156.63 L185.96,155.45 L186.16,154.26 L186.36,153.07 L186.56,151.89 L186.76,150.70 L186.97,149.51 L187.17,148.31 L187.37,147.12 L187.57,145.93 L187.77,144.73 L187.97,143.53 L188.18,142.33 L188.38,141.13 L188.58,139.93 L188.78,138.73 L188.99,137.52 L189.19,136.32 L189.40,135.11 L189.60,133.90 L189.81,132.69 L190.02,131.48 L190.22,130.28 L190.43,129.07 L190.63,127.86 L190.84,126.65 L191.05,125.44 L191.25,124.23 L191.46,123.03 L191.66,121.82 L191.87,120.61 L192.07,119.41 L192.28,118.21 L192.48,117.01 L192.68,115.81 L192.89,114.61 L193.09,113.42 L193.29,112.22 L193.49,111.03 L193.69,109.84 L193.89,108.66 L194.09,107.48 L194.29,106.30 L194.48,105.12 L194.68,103.95 L194.87,102.78 L195.06,101.62 L195.26,100.46 L195.45,99.30 L195.64,98.15 L195.82,97.00 L196.01,95.86 L196.19,94.72 L196.38,93.59 L196.56,92.46 L196.74,91.34 L196.92,90.22 L197.09,89.11 L197.27,88.00 L197.44,86.90 L197.61,85.81 L197.78,84.72 L197.94,83.64 L198.11,82.57 L198.27,81.50 L198.43,80.44 L198.59,79.39 L198.75,78.33 L198.91,77.27 L199.07,76.20 L199.24,75.11 L199.42,74.01 L199.61,72.87 L199.81,71.70 L200.02,70.49 L200.24,69.24 L200.49,67.94 L200.75,66.58 L201.04,65.17 L201.34,63.69 L201.67,62.13 L202.03,60.50 L202.42,58.79 L202.83,57.01 L203.26,55.18 L203.70,53.33 L204.14,51.49 L204.59,49.69 L205.02,47.94 L205.44,46.29 L205.83,44.75 L206.19,43.35 L206.51,42.12 L206.78,41.09 L207.00,40.29 L207.15,39.73 L207.24,39.46 L207.26,39.48 L207.19,39.85 L207.03,40.57 L206.79,41.61 L206.52,42.78 L206.27,43.85 L206.11,44.62 L206.07,44.88 L206.17,44.61 L206.40,43.89 L206.72,42.83 L207.11,41.49 L207.57,39.98 L208.06,38.37 L208.57,36.76 L209.08,35.24 L209.59,33.83 L210.15,32.56 L210.77,31.46 L211.49,30.52 L212.33,29.77 L213.29,29.22 L214.29,28.91 L215.28,28.84 L216.19,29.02 L217.03,29.46 L217.81,30.11 L218.54,30.97 L219.22,32.03 L219.87,33.25 L220.47,34.63 L221.06,36.14 L221.62,37.77 L222.15,39.43 L222.64,41.02 L223.06,42.47 L223.40,43.67 L223.65,44.54 L223.79,44.98 L223.80,44.91 L223.68,44.26 L223.47,43.20 L223.21,41.95 L222.96,40.76 L222.78,39.85 L222.68,39.33 L222.66,39.18 L222.72,39.37 L222.85,39.86 L223.04,40.64 L223.28,41.66 L223.57,42.89 L223.90,44.32 L224.26,45.89 L224.65,47.60 L225.06,49.40 L225.48,51.27 L225.91,53.17 L226.33,55.07 L226.75,56.95 L227.16,58.77 L227.54,60.51 L227.89,62.14 L228.22,63.68 L228.53,65.13 L228.82,66.50 L229.09,67.80 L229.35,69.03 L229.59,70.20 L229.81,71.33 L230.03,72.41 L230.24,73.45 L230.44,74.47 L230.63,75.47 L230.82,76.46 L231.01,77.44 L231.20,78.43 L231.40,79.42 L231.60,80.44 L231.80,81.48 L232.01,82.54 L232.22,83.63 L232.44,84.73 L232.66,85.85 L232.88,86.99 L233.11,88.14 L233.34,89.30 L233.57,90.48 L233.80,91.67 L234.03,92.86 L234.26,94.06 L234.49,95.27 L234.72,96.48 L234.95,97.70 L235.18,98.91 L235.41,100.12 L235.63,101.34 L235.85,102.55 L236.07,103.76 L236.29,104.96 L236.51,106.17 L236.72,107.38 L236.93,108.58 L237.14,109.78 L237.35,110.98 L237.55,112.18 L237.76,113.38 L237.96,114.57 L238.16,115.77 L238.36,116.96 L238.56,118.16 L238.76,119.35 L238.95,120.54 L239.15,121.73 L239.35,122.91 L239.54,124.10 L239.73,125.29 L239.93,126.47 L240.12,127.66 L240.31,128.84 L240.51,130.02 L240.70,131.20 L240.89,132.38 L241.09,133.56 L241.28,134.74 L241.47,135.92 L241.67,137.10 L241.86,138.27 L242.05,139.45 L242.25,140.62 L242.44,141.80 L242.64,142.97 L242.84,144.15 L243.04,145.32 L243.24,146.49 L243.44,147.66 L243.64,148.84 L243.85,150.01 L244.05,151.18 L244.26,152.35 L244.47,153.52 L244.68,154.69 L244.89,155.86 L245.10,157.03 L245.32,158.20 L245.54,159.37 L245.76,160.54 L245.98,161.71 L246.21,162.88 L246.43,164.05 L246.66,165.22 L246.90,166.39 L247.13,167.56 L247.37,168.72 L247.61,169.89 L247.85,171.06 L248.10,172.23 L248.34,173.40 L248.59,174.57 L248.85,175.73 L249.10,176.90 L249.36,178.07 L249.62,179.24 L249.88,180.40 L250.15,181.57 L250.42,182.74 L250.69,183.90 L250.96,185.07 L251.24,186.24 L251.52,187.40 L251.80,188.57 L252.09,189.73 L252.37,190.90 L252.67,192.06 L252.96,193.23 L253.26,194.39 L253.56,195.55 L253.86,196.71 L254.17,197.88 L254.48,199.04 L254.79,200.20 L255.10,201.36 L255.42,202.52 L255.74,203.68 L256.07,204.84 L256.39,206.00 L256.73,207.16 L257.06,208.32 L257.40,209.48 L257.74,210.64 L258.08,211.79 L258.43,212.95 L258.78,214.11 L259.13,215.26 L259.49,216.41 L259.86,217.57 L260.24,218.71 L260.63,219.84 L261.04,220.97 L261.48,222.08 L261.95,223.17 L262.45,224.24 L262.98,225.29 L263.55,226.31 L264.17,227.31 L264.84,228.27 L265.56,229.20 L266.33,230.10 L267.16,230.96 L268.06,231.77 L269.03,232.54 L270.06,233.23 L271.13,233.79 L272.24,234.15 L273.37,234.26 L274.52,234.16 L275.68,233.88 L276.85,233.48 L278.03,233.00 L279.22,232.49 L280.41,232.00 L281.61,231.56 L282.80,231.18 L283.99,230.87 L285.18,230.62 L286.35,230.46 L287.52,230.37 L288.67,230.37 L289.80,230.46 L290.92,230.65 L292.02,230.91 L293.11,231.26 L294.19,231.67 L295.26,232.14 L296.31,232.66 L297.37,233.23 L298.41,233.84 L299.45,234.48 L300.49,235.14 L301.53,235.82 L302.57,236.51 L303.61,237.20 L304.66,237.88 L305.71,238.55 L306.77,239.20 L307.84,239.82 L308.92,240.40 L310.01,240.94 L311.11,241.43 L312.23,241.87 L313.36,242.26 L314.50,242.61 L315.65,242.93 L316.81,243.21 L317.97,243.46 L319.14,243.70 L320.31,243.91 L321.49,244.12 L322.67,244.31 L323.85,244.50 L325.03,244.68 L326.21,244.85 L327.39,245.01 L328.57,245.16 L329.76,245.30 L330.94,245.44 L332.13,245.57 L333.32,245.69 L334.51,245.81 L335.70,245.91 L336.89,246.02 L338.08,246.11 L339.27,246.20 L340.47,246.28 L341.66,246.36 L342.86,246.43 L344.05,246.49 L345.25,246.55 L346.45,246.60 L347.65,246.65 L348.85,246.70 L350.05,246.74 L351.25,246.77 L352.45,246.80 L353.65,246.83 L354.85,246.85 L356.05,246.87 L357.25,246.89 L358.46,246.90 L359.66,246.91 L360.86,246.92 L362.07,246.92 L363.27,246.92 L364.47,246.92 L365.68,246.92 L366.88,246.92 L368.09,246.91 L369.29,246.90 L370.49,246.90 L371.70,246.89 L372.90,246.88 L374.11,246.87 L375.31,246.85 L376.51,246.84 L377.71,246.83 L378.92,246.82 L380.12,246.81 L381.32,246.80 L382.52,246.79 L383.72,246.78 L384.93,246.77 L386.13,246.76 L387.33,246.76 L388.52,246.76 L389.72,246.75 L390.92,246.75 L392.12,246.76 L393.31,246.76 L394.51,246.77 L395.70,246.78 L396.90,246.80 L398.09,246.81 L399.28,246.84 L400.47,246.86 L401.66,246.89 L402.85,246.92 L404.04,246.96 L405.23,247.00 L406.41,247.05 L407.60,247.10" fill="none" stroke="#000" stroke-width="2.1" stroke-linejoin="round"/>
<rect x="273.40" y="132.60" width="124.90" height="90.40" fill="#fff" stroke="#222" stroke-width="1.1"/>
<path d="M294.40,223.00v-2.2 M335.85,223.00v-2.2 M377.30,223.00v-2.2" stroke="#222" stroke-width="0.9"/>
<path d="M273.42,215.95 L274.54,216.14 L275.68,216.29 L276.84,216.39 L278.03,216.45 L279.22,216.45 L280.43,216.41 L281.64,216.32 L282.85,216.18 L284.06,215.99 L285.26,215.75 L286.44,215.45 L287.61,215.10 L288.76,214.70 L289.88,214.24 L290.98,213.73 L292.03,213.16 L293.05,212.53 L294.03,211.85 L294.96,211.10 L295.84,210.30 L296.67,209.45 L297.46,208.56 L298.21,207.62 L298.92,206.65 L299.59,205.66 L300.22,204.63 L300.81,203.59 L301.37,202.53 L301.90,201.47 L302.40,200.40 L302.88,199.33 L303.33,198.27 L303.77,197.20 L304.20,196.13 L304.63,195.05 L305.07,193.96 L305.53,192.86 L306.02,191.74 L306.54,190.60 L307.10,189.44 L307.71,188.25 L308.37,187.04 L309.09,185.90 L309.85,185.01 L310.63,184.55 L311.43,184.67 L312.21,185.33 L312.96,186.35 L313.63,187.54 L314.19,188.73 L314.68,189.86 L315.13,190.95 L315.57,192.04 L316.05,193.13 L316.62,194.24 L317.30,195.33 L318.13,196.30 L319.13,197.06 L320.23,197.48 L321.26,197.43 L322.12,196.85 L322.84,195.91 L323.46,194.84 L324.03,193.75 L324.54,192.65 L325.01,191.54 L325.43,190.42 L325.82,189.29 L326.16,188.15 L326.47,187.01 L326.76,185.86 L327.02,184.71 L327.25,183.54 L327.47,182.38 L327.68,181.20 L327.88,180.02 L328.07,178.84 L328.26,177.66 L328.45,176.47 L328.65,175.28 L328.85,174.08 L329.05,172.89 L329.26,171.69 L329.47,170.50 L329.69,169.30 L329.90,168.11 L330.12,166.91 L330.34,165.73 L330.55,164.54 L330.77,163.36 L330.98,162.18 L331.19,161.01 L331.40,159.84 L331.61,158.68 L331.81,157.53 L332.00,156.38 L332.19,155.25 L332.37,154.12 L332.55,153.01 L332.72,151.90 L332.89,150.78 L333.07,149.64 L333.28,148.46 L333.52,147.23 L333.80,145.93 L334.13,144.55 L334.51,143.09 L334.94,141.74 L335.40,140.75 L335.86,140.37 L336.32,140.78 L336.76,141.79 L337.17,143.16 L337.54,144.62 L337.86,145.99 L338.15,147.27 L338.40,148.47 L338.62,149.61 L338.83,150.71 L339.02,151.80 L339.21,152.89 L339.39,154.00 L339.57,155.14 L339.75,156.29 L339.94,157.47 L340.12,158.65 L340.31,159.85 L340.50,161.05 L340.69,162.25 L340.89,163.46 L341.09,164.66 L341.29,165.86 L341.50,167.05 L341.71,168.23 L341.92,169.41 L342.14,170.58 L342.35,171.75 L342.58,172.92 L342.80,174.08 L343.03,175.24 L343.26,176.41 L343.49,177.57 L343.72,178.73 L343.96,179.89 L344.20,181.05 L344.44,182.22 L344.68,183.39 L344.92,184.56 L345.16,185.74 L345.41,186.92 L345.65,188.11 L345.90,189.30 L346.18,190.49 L346.50,191.66 L346.89,192.81 L347.37,193.93 L347.97,195.00 L348.70,196.01 L349.57,196.85 L350.54,197.37 L351.60,197.41 L352.65,197.01 L353.59,196.28 L354.39,195.33 L355.05,194.25 L355.62,193.15 L356.10,192.07 L356.55,190.99 L357.01,189.90 L357.50,188.75 L358.08,187.54 L358.76,186.30 L359.50,185.25 L360.29,184.57 L361.08,184.47 L361.85,185.01 L362.60,185.98 L363.30,187.19 L363.96,188.43 L364.57,189.59 L365.14,190.69 L365.66,191.74 L366.16,192.78 L366.63,193.82 L367.09,194.88 L367.54,195.97 L367.98,197.07 L368.42,198.18 L368.88,199.30 L369.34,200.42 L369.82,201.53 L370.32,202.63 L370.86,203.71 L371.43,204.77 L372.04,205.79 L372.69,206.78 L373.40,207.73 L374.17,208.64 L374.98,209.50 L375.85,210.31 L376.76,211.07 L377.71,211.78 L378.71,212.45 L379.73,213.07 L380.79,213.64 L381.88,214.16 L383.00,214.62 L384.13,215.04 L385.29,215.41 L386.46,215.72 L387.64,215.99 L388.84,216.20 L390.03,216.36 L391.23,216.46 L392.43,216.51 L393.62,216.51 L394.81,216.45 L395.98,216.33 L397.14,216.16 L398.28,215.94" fill="none" stroke="#222" stroke-width="1.3"/>
<path d="M273.42,215.43 L274.54,215.61 L275.69,215.75 L276.85,215.84 L278.04,215.89 L279.24,215.90 L280.45,215.87 L281.66,215.78 L282.88,215.65 L284.09,215.47 L285.29,215.24 L286.48,214.96 L287.66,214.63 L288.81,214.24 L289.94,213.80 L291.03,213.31 L292.10,212.76 L293.12,212.15 L294.11,211.48 L295.04,210.75 L295.93,209.97 L296.77,209.13 L297.57,208.25 L298.33,207.32 L299.04,206.36 L299.72,205.37 L300.35,204.35 L300.95,203.31 L301.52,202.25 L302.05,201.18 L302.54,200.10 L303.01,199.02 L303.46,197.94 L303.89,196.85 L304.32,195.76 L304.75,194.67 L305.19,193.57 L305.66,192.46 L306.15,191.34 L306.69,190.21 L307.27,189.07 L307.91,187.91 L308.61,186.76 L309.35,185.73 L310.13,184.98 L310.91,184.66 L311.67,184.88 L312.40,185.56 L313.09,186.54 L313.73,187.68 L314.31,188.85 L314.83,190.03 L315.30,191.21 L315.74,192.40 L316.14,193.58 L316.52,194.76 L316.88,195.93 L317.24,197.09 L317.59,198.24 L317.96,199.37 L318.35,200.48 L318.77,201.57 L319.22,202.63 L319.71,203.67 L320.26,204.67 L320.86,205.64 L321.54,206.58 L322.29,207.47 L323.13,208.32 L324.05,209.13 L325.02,209.91 L326.03,210.65 L327.05,211.37 L328.07,212.06 L329.07,212.73 L330.05,213.39 L331.03,214.02 L332.05,214.64 L333.11,215.22 L334.20,215.70 L335.30,215.99 L336.40,216.04 L337.49,215.82 L338.56,215.39 L339.62,214.79 L340.67,214.09 L341.70,213.34 L342.71,212.58 L343.72,211.88 L344.70,211.24 L345.68,210.63 L346.63,209.96 L347.56,209.23 L348.45,208.44 L349.30,207.58 L350.10,206.67 L350.83,205.71 L351.49,204.70 L352.07,203.66 L352.58,202.59 L353.04,201.48 L353.44,200.36 L353.82,199.23 L354.16,198.09 L354.50,196.94 L354.83,195.80 L355.16,194.67 L355.52,193.55 L355.90,192.45 L356.32,191.34 L356.80,190.22 L357.32,189.07 L357.92,187.87 L358.58,186.65 L359.30,185.55 L360.06,184.78 L360.84,184.51 L361.61,184.86 L362.37,185.69 L363.10,186.81 L363.78,188.03 L364.40,189.19 L364.98,190.30 L365.51,191.38 L366.01,192.43 L366.49,193.49 L366.95,194.55 L367.40,195.65 L367.84,196.75 L368.29,197.87 L368.74,198.99 L369.21,200.11 L369.70,201.23 L370.20,202.33 L370.74,203.41 L371.31,204.46 L371.93,205.49 L372.59,206.47 L373.30,207.42 L374.06,208.31 L374.88,209.16 L375.75,209.96 L376.67,210.71 L377.63,211.41 L378.62,212.06 L379.66,212.66 L380.72,213.22 L381.82,213.72 L382.94,214.17 L384.08,214.57 L385.25,214.92 L386.42,215.23 L387.61,215.48 L388.81,215.68 L390.01,215.82 L391.22,215.92 L392.42,215.97 L393.62,215.96 L394.81,215.90 L395.98,215.80 L397.14,215.63 L398.29,215.42" fill="none" stroke="#ff0000" stroke-width="1.3"/>
<rect x="60.10" y="6.50" width="347.50" height="251.70" fill="none" stroke="#383838" stroke-width="1.3"/>
<path d="M60.06,258.20v-5.00 M60.06,6.50v5.00 M98.72,258.20v-2.80 M98.72,6.50v2.80 M137.38,258.20v-5.00 M137.38,6.50v5.00 M176.04,258.20v-2.80 M176.04,6.50v2.80 M214.70,258.20v-5.00 M214.70,6.50v5.00 M253.36,258.20v-2.80 M253.36,6.50v2.80 M292.02,258.20v-5.00 M292.02,6.50v5.00 M330.68,258.20v-2.80 M330.68,6.50v2.80 M369.34,258.20v-5.00 M369.34,6.50v5.00 M408.00,258.20v-2.80 M408.00,6.50v2.80 M60.10,247.25h5.60 M60.10,225.38h2.90 M60.10,203.50h5.60 M60.10,181.62h2.90 M60.10,159.75h5.60 M60.10,137.88h2.90 M60.10,116.00h5.60 M60.10,94.12h2.90 M60.10,72.25h5.60 M60.10,50.38h2.90 M60.10,28.50h5.60 M407.60,258.15h-5.50 M407.60,226.67h-3.00 M407.60,195.20h-5.50 M407.60,163.72h-3.00 M407.60,132.25h-5.50 M407.60,100.77h-3.00 M407.60,69.30h-5.50 M407.60,37.82h-3.00 M407.60,6.35h-5.50" stroke="#383838" stroke-width="1.2"/>
<path d="M67.6,146.30H105.4" stroke="#000000" stroke-width="1.8"/>
<text x="108.5" y="152.00" class="lg">0.125</text>
<path d="M67.6,166.00H105.4" stroke="#ff0000" stroke-width="1.8"/>
<text x="108.5" y="171.70" class="lg">0.19</text>
<path d="M67.6,185.80H105.4" stroke="#ff00ff" stroke-width="1.8"/>
<text x="108.5" y="191.50" class="lg">0.40</text>
<path d="M67.6,205.70H105.4" stroke="#000000" stroke-width="1.8"/>
<text x="108.5" y="211.40" class="lg">0.47</text>
<path d="M67.6,225.50H105.4" stroke="#6a00ff" stroke-width="1.8"/>
<text x="108.5" y="231.20" class="lg">0.69</text>
<text x="69.5" y="132.6" class="lg"><tspan font-style="italic">τ</tspan> [ps] =</text>
<text x="54.5" y="252.85" class="tk" text-anchor="end">0.0</text>
<text x="54.5" y="209.10" class="tk" text-anchor="end">0.2</text>
<text x="54.5" y="165.35" class="tk" text-anchor="end">0.4</text>
<text x="54.5" y="121.60" class="tk" text-anchor="end">0.6</text>
<text x="54.5" y="77.85" class="tk" text-anchor="end">0.8</text>
<text x="54.5" y="34.10" class="tk" text-anchor="end">1.0</text>
<text x="413" y="263.75" class="tk">-2</text>
<text x="413" y="200.80" class="tk">0</text>
<text x="413" y="137.85" class="tk">2</text>
<text x="413" y="74.90" class="tk">4</text>
<text x="413" y="11.95" class="tk">6</text>
<text x="59.56" y="277.5" class="tk" text-anchor="middle">-0.2</text>
<text x="136.88" y="277.5" class="tk" text-anchor="middle">-0.1</text>
<text x="214.20" y="277.5" class="tk" text-anchor="middle">0.0</text>
<text x="291.52" y="277.5" class="tk" text-anchor="middle">0.1</text>
<text x="368.84" y="277.5" class="tk" text-anchor="middle">0.2</text>
<text x="234.2" y="310.6" class="ti" style="font-size:22.7px" text-anchor="middle">Time (ps)</text>
<text transform="translate(15.6,127) rotate(-90)" class="ti" text-anchor="middle">Intensity (Normalized)</text>
<text transform="translate(453,147.3) rotate(-90)" class="ti" style="font-size:22.8px" text-anchor="middle">Phase (rad)</text>
<path d="M207.2,36.75H190" stroke="#b4b4b4" stroke-width="1.7"/>
<path d="M184.0,36.75 L191.6,34.6 L191.0,36.75 L191.6,38.9z" fill="#000" stroke="#000" stroke-width="0.5" stroke-linejoin="round"/>
<ellipse cx="297.7" cy="59.85" rx="5.2" ry="20.5" fill="none" stroke="#000" stroke-width="1.5"/>
<path d="M303.4,66.8H317" stroke="#b4b4b4" stroke-width="1.7"/>
<path d="M323.0,66.8 L315.6,64.7 L316.2,66.8 L315.6,68.9z" fill="#000" stroke="#000" stroke-width="0.5" stroke-linejoin="round"/>
<text x="305" y="153.6" class="ib" style="font-size:12.6px" textLength="19" lengthAdjust="spacingAndGlyphs">D(<tspan font-style="italic">t</tspan>)</text>
<path d="M305.9,143.6 C306.5,141.8 307.6,141.6 308.6,142.4 C309.6,143.2 310.6,143.4 311.4,141.6" fill="none" stroke="#000" stroke-width="1.5"/>
<text x="350" y="153.2" class="is"><tspan font-style="italic">τ</tspan> = 0.125ps</text>
<text x="280.6" y="180" class="ib" style="fill:#ff0000">D</text>
<text x="290.7" y="173.4" class="ib" style="fill:#ff0000;font-size:8.6px" textLength="15.3" lengthAdjust="spacingAndGlyphs">TSPS</text>
<text x="305.6" y="180" class="ib" style="fill:#ff0000">(<tspan font-style="italic">t</tspan>)</text>
<path d="M281.5,169.8 C282.1,168.0 283.2,167.8 284.4,168.6 C285.6,169.4 286.6,169.6 287.6,167.8" fill="none" stroke="#ff0000" stroke-width="1.5"/>
</svg>
</body></html>
